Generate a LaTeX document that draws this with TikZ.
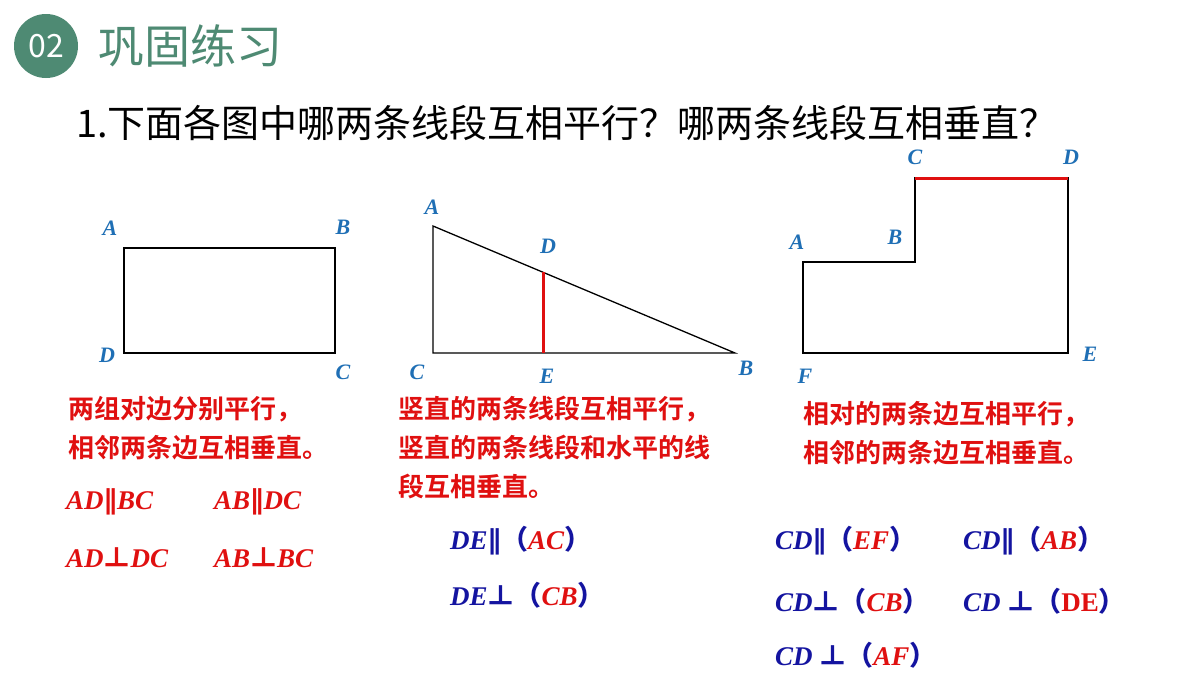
\documentclass[tikz,border=0pt]{standalone}
\usepackage{fontspec}
\setmainfont{Liberation Serif}
\newfontfamily\cjk{Noto Sans CJK SC}
\newfontfamily\cjkb{Noto Sans CJK SC Bold}
\newfontfamily\lbl{Liberation Serif}
\newfontfamily\djvfont{DejaVu Sans}
\newcommand{\pl}{{\upshape\djvfont\bfseries ∥}}
\newcommand{\pp}{{\upshape\cjk ⊥}}
\newcommand{\lp}{{\upshape\cjk （}}
\newcommand{\rp}{{\upshape\cjk ）}}
\definecolor{tg}{HTML}{4E8A73}
\definecolor{lb}{HTML}{1F6FB5}
\definecolor{rd}{HTML}{E01010}
\definecolor{nv}{HTML}{1414A0}
\begin{document}
\begin{tikzpicture}[x=1pt,y=-1pt,
  lab/.style={font=\fontsize{22}{22}\lbl\bfseries\itshape,text=lb,inner sep=0pt},
  rt/.style={font=\fontsize{26}{39}\cjkb,text=rd,anchor=north west,align=left,inner sep=0pt},
  eq/.style={font=\fontsize{27}{27}\lbl\bfseries\itshape,anchor=west,inner sep=0pt},
  fig/.style={line width=1.3pt},
  redl/.style={draw=rd,line width=3pt}]
\useasboundingbox (0,0) rectangle (1200,675);
\fill[white] (0,0) rectangle (1200,675);
% header
\node[circle,fill=tg,minimum size=64pt,inner sep=0pt,text=white,font=\fontsize{32}{32}\cjk] (badge) at (46,46) {02};
\node[anchor=west,text=tg,font=\fontsize{46}{46}\cjk,inner sep=0pt] (title) at (98,46) {巩固练习};
\node[anchor=west,font=\fontsize{38}{38}\cjk,inner sep=0pt] (q) at (76,123) {1.下面各图中哪两条线段互相平行？哪两条线段互相垂直？};
% figure 1
\coordinate (A1) at (124,248); \coordinate (B1) at (335,248);
\coordinate (C1) at (335,353); \coordinate (D1) at (124,353);
\draw[fig] (A1)--(B1)--(C1)--(D1)--cycle;
\node[lab] (la1) at (110,228) {A};
\node[lab] (lb1) at (343,227) {B};
\node[lab] (ld1) at (107,355) {D};
\node[lab] (lc1) at (343,372) {C};
% figure 2
\coordinate (A2) at (433,226); \coordinate (C2) at (433,353);
\coordinate (B2) at (735,353); \coordinate (D2) at (543,272.3);
\coordinate (E2) at (543,353);
\draw[fig] (A2)--(C2)--(B2)--cycle;
\draw[redl] (D2)--(E2);
\node[lab] (la2) at (432,207) {A};
\node[lab] (ld2) at (548,246) {D};
\node[lab] (lc2) at (417,372) {C};
\node[lab] (le2) at (547,376) {E};
\node[lab] (lb2) at (746,368) {B};
% figure 3
\coordinate (F3) at (803,353); \coordinate (A3) at (803,262);
\coordinate (B3) at (915,262); \coordinate (C3) at (915,178);
\coordinate (D3) at (1068,178); \coordinate (E3) at (1068,353);
\draw[fig] (F3)--(A3)--(B3)--(C3)--(D3)--(E3)--cycle;
\draw[redl] (C3)--(D3);
\node[lab] (lc3) at (915,157) {C};
\node[lab] (ld3) at (1071,157) {D};
\node[lab] (lb3) at (895,237) {B};
\node[lab] (la3) at (797,242) {A};
\node[lab] (le3) at (1090,354) {E};
\node[lab] (lf3) at (805,376) {F};
% texts
\node[rt] (t1) at (68,396) {两组对边分别平行，\\相邻两条边互相垂直。};
\node[rt] (t2) at (398,396) {竖直的两条线段互相平行，\\竖直的两条线段和水平的线\\段互相垂直。};
\node[rt] (t3) at (803,401) {相对的两条边互相平行，\\相邻的两条边互相垂直。};
\node[eq,text=rd] (e1) at (66,502) {AD\pl BC};
\node[eq,text=rd] (e2) at (214,502) {AB\pl DC};
\node[eq,text=rd] (e3) at (66,558) {AD\pp DC};
\node[eq,text=rd] (e4) at (214,558) {AB\pp BC};
\node[eq,text=nv] (f1) at (450,541) {DE\pl\lp\textcolor{rd}{AC}\rp};
\node[eq,text=nv] (f2) at (450,595) {DE\pp\lp\textcolor{rd}{CB}\rp};
\node[eq,text=nv] (g1) at (775,541) {CD\pl\lp\textcolor{rd}{EF}\rp};
\node[eq,text=nv] (g2) at (963,541) {CD\pl\lp\textcolor{rd}{AB}\rp};
\node[eq,text=nv] (g3) at (775,601) {CD\pp\lp\textcolor{rd}{CB}\rp};
\node[eq,text=nv] (g4) at (963,601) {CD \pp\lp\textcolor{rd}{\upshape DE}\rp};
\node[eq,text=nv] (g5) at (775,655) {CD \pp\lp\textcolor{rd}{AF}\rp};
\end{tikzpicture}
\end{document}
